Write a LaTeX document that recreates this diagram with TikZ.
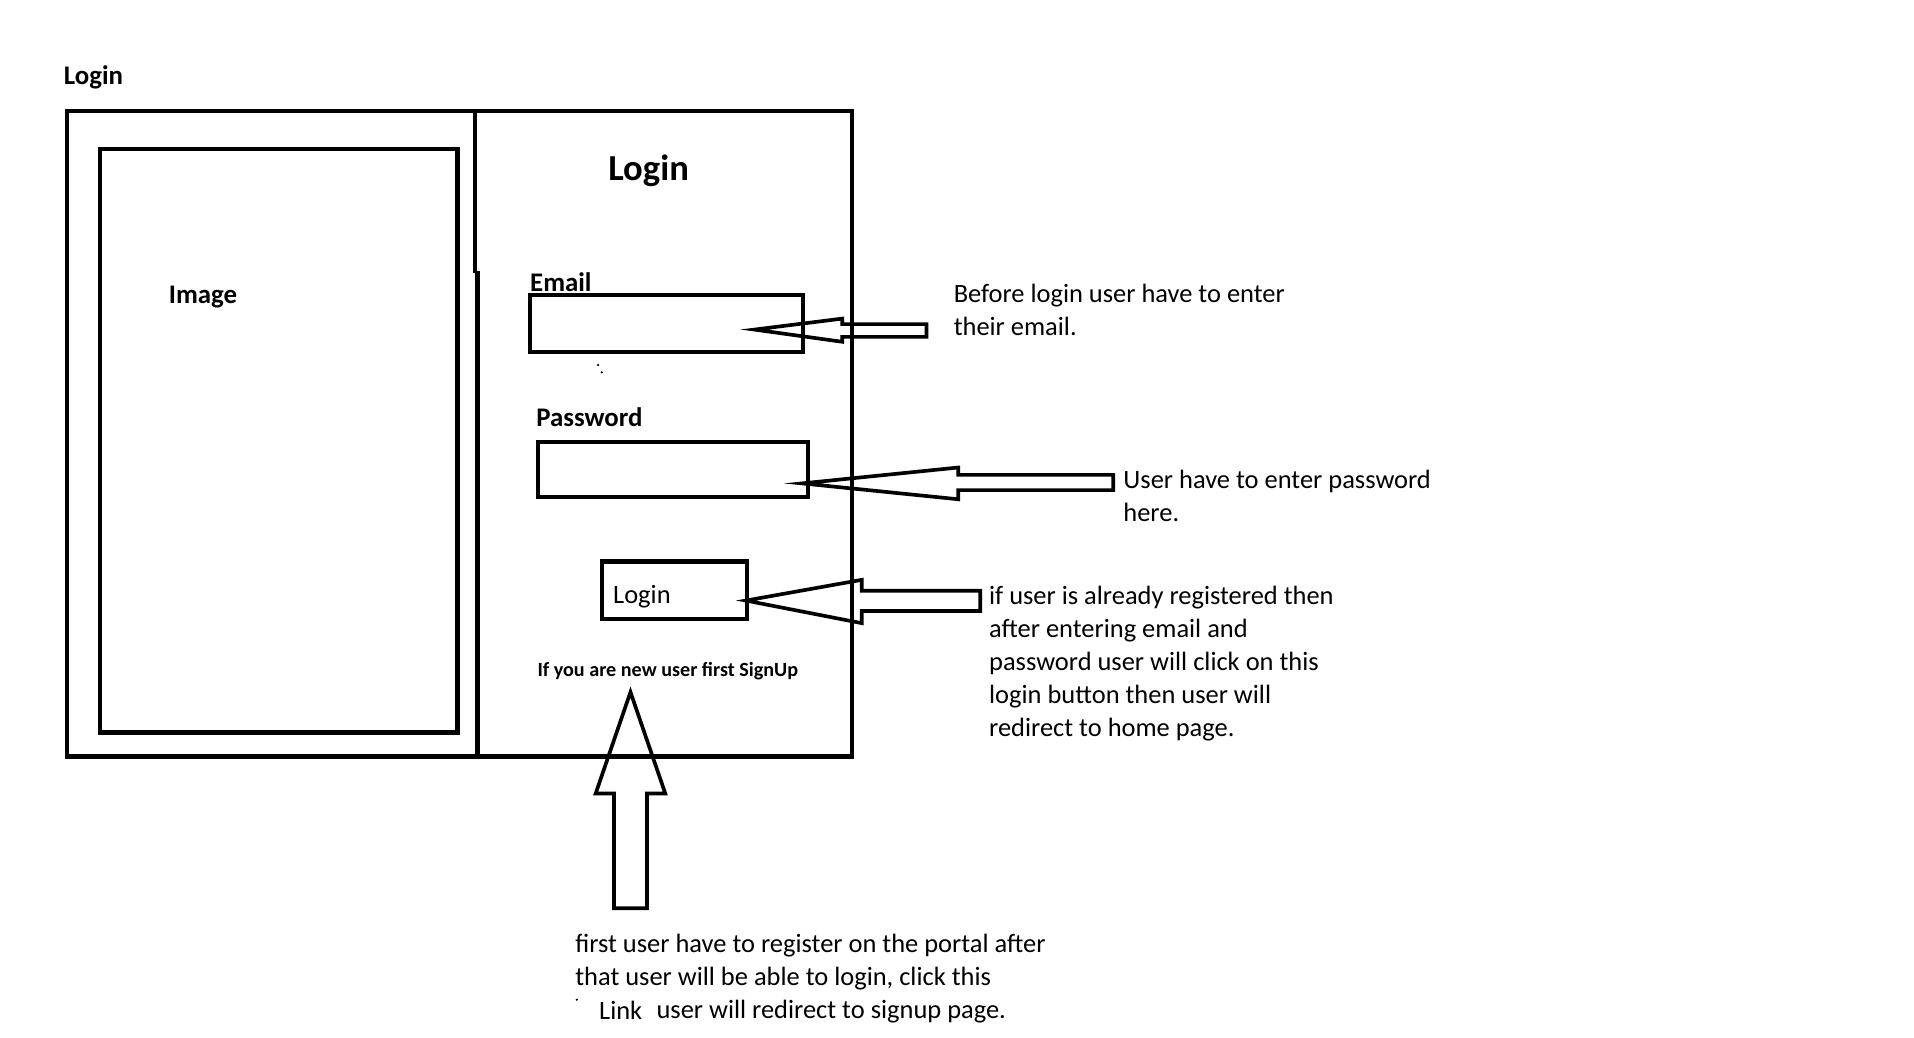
\documentclass[tikz,border=0pt]{standalone}
\usepackage{fontspec}
\setmainfont{Carlito}
\newcommand\fbody{\fontsize{13}{16.2}\selectfont}
\newcommand\flabel{\fontsize{13.2}{16}\selectfont\bfseries}
\newcommand\fbig{\fontsize{18}{22}\selectfont\bfseries}
\newcommand\fsmall{\fontsize{9.9}{12}\selectfont\bfseries}
\begin{document}
\begin{tikzpicture}[x=0.6pt,y=-0.6pt,
  frame/.style={draw=black,line width=2.3pt,inner sep=0pt,fill=none},
  field/.style={draw=black,line width=2pt,inner sep=0pt},
  blockarrow/.style={draw=black,line width=1.8pt,line join=miter},
  txt/.style={font=\fbody,anchor=base west,inner sep=0pt,align=left},
  lbl/.style={font=\flabel,anchor=base west,inner sep=0pt},
  speck/.style={fill=black,inner sep=0pt,minimum size=1.2pt,circle}]
\useasboundingbox[fill=white] (0,0) rectangle (1568,850);

% page title
\node[lbl] (pagetitle) at (52,69) {Login};

% outer frame, image panel, divider
\node[frame,minimum width=385.8pt,minimum height=317.4pt] (outer) at (376.5,355.5) {};
\node[frame,minimum width=175.8pt,minimum height=286.8pt] (imgbox) at (228.5,361) {};
\draw[line width=2.3pt] (389,91) -- (389,224);
\draw[line width=2.3pt] (391,222) -- (391,621);
\node[lbl] (imglbl) at (138,249) {Image};

% form
\node[font=\fbig,anchor=base west,inner sep=0pt] (formtitle) at (498,147.5) {Login};
\node[lbl] (emaillbl) at (434,238.5) {Email};
\node[field,minimum width=134.4pt,minimum height=27.6pt] (email) at (546,265) {};
\node[lbl] (pwlbl) at (439,349.7) {Password};
\node[field,minimum width=132.6pt,minimum height=27pt] (pw) at (551.5,384.5) {};
\node[field,minimum width=71.4pt,minimum height=28.2pt] (btn) at (552.5,483.5) {};
\node[txt] (btnlbl) at (502,494) {Login};
\node[font=\fsmall,anchor=base west,inner sep=0pt] (signup) at (440,554.6) {If you are new user first SignUp};

% specks
\node[speck] (sp1) at (490,299) {};
\node[speck] (sp2) at (493,305) {};
\node[speck] (sp3) at (472.5,819) {};

% block arrows
\draw[blockarrow] (618,270) -- (690,261) -- (690,265.5) -- (759,265.5) -- (759,276) -- (690,276) -- (690,280) -- cycle;
\draw[blockarrow] (657,396) -- (785,383) -- (785,389) -- (912,389) -- (912,401.5) -- (785,401.5) -- (785,409) -- cycle;
\draw[blockarrow] (611,492) -- (706,475) -- (706,484) -- (803,484) -- (803,500.5) -- (706,500.5) -- (706,510.5) -- cycle;
\draw[blockarrow] (516.5,567) -- (545,650) -- (530,650) -- (530,744) -- (503,744) -- (503,650) -- (488,650) -- cycle;

% notes (base anchor = baseline of last line)
\node[txt] (note1) at (781,275) {Before login user have to enter\\their email.};
\node[txt] (note2) at (920,427) {User have to enter password\\here.};
\node[txt] (note3) at (810,603) {if user is already registered then\\after entering email and\\password user will click on this\\login button then user will\\redirect to home page.};
\node[txt] (note4) at (471,807) {first user have to register on the portal after\\that user will be able to login, click this};
\node[txt] (linklbl) at (490.5,835) {Link};
\node[txt] (note4b) at (537.5,834) {user will redirect to signup page.};
\end{tikzpicture}
\end{document}
